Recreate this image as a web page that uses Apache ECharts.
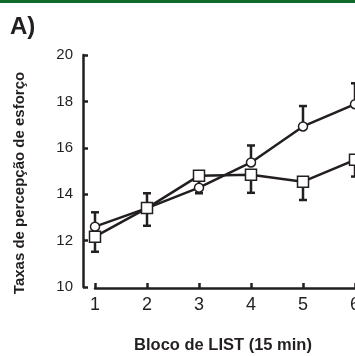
<!DOCTYPE html>
<html>
<head>
<meta charset="utf-8">
<script src="https://cdn.jsdelivr.net/npm/echarts@6/dist/echarts.min.js"></script>
<style>
  html, body { margin: 0; padding: 0; background: #fff; }
  #chart { width: 355px; height: 356px; }
</style>
</head>
<body>
<div id="chart"></div>
<script>
  // blocos de LIST (15 min)
  var blocks = [1, 2, 3, 4, 5, 6];
  // circulos (media + barra superior)
  var circleMean = [12.6, 13.4, 14.28, 15.37, 16.92, 17.88];
  var circleUpper = [13.22, 14.04, 14.9, 16.1, 17.8, 18.78];
  // quadrados (media + barra inferior)
  var squareMean = [12.17, 13.4, 14.8, 14.84, 14.54, 15.48];
  var squareLower = [11.52, 12.64, 14.04, 14.06, 13.75, 14.76];
  var yTicks = [10, 12, 14, 16, 18, 20];

  var ink = '#231f20';
  var chart = echarts.init(document.getElementById('chart'));

  function pairs(xs, ys) {
    return xs.map(function (x, i) { return [x, ys[i]]; });
  }
  function errData(xs, from, to) {
    return xs.map(function (x, i) { return [x, from[i], to[i]]; });
  }
  function errorBar(params, api) {
    var p0 = api.coord([api.value(0), api.value(1)]);
    var p1 = api.coord([api.value(0), api.value(2)]);
    var w = 4;
    var st = { stroke: ink, lineWidth: 2.5 };
    return {
      type: 'group',
      children: [
        { type: 'line', shape: { x1: p0[0], y1: p0[1], x2: p1[0], y2: p1[1] }, style: st },
        { type: 'line', shape: { x1: p1[0] - w, y1: p1[1], x2: p1[0] + w, y2: p1[1] }, style: st }
      ]
    };
  }

  var option = {
    animation: false,
    grid: { left: 95, right: 0, top: 55, bottom: 69, outerBoundsMode: 'none' },
    xAxis: {
      type: 'value', min: 1, max: 6, interval: 1, offset: 1,
      axisLine: { lineStyle: { color: ink, width: 2.5 } },
      axisTick: { inside: true, length: 5, lineStyle: { color: ink, width: 2.5 } },
      axisLabel: { color: ink, fontSize: 18, fontFamily: 'Liberation Sans', margin: 8 },
      splitLine: { show: false }
    },
    yAxis: {
      type: 'value', min: yTicks[0], max: yTicks[yTicks.length - 1], interval: 2, offset: 12,
      axisLine: { show: true, lineStyle: { color: ink, width: 2.5 } },
      axisTick: { show: true, inside: true, length: 5, lineStyle: { color: ink, width: 2.5 } },
      axisLabel: { color: ink, fontSize: 15, fontFamily: 'Liberation Sans', margin: 10 },
      splitLine: { show: false }
    },
    series: [
      {
        type: 'custom', renderItem: errorBar, z: 1,
        data: errData(blocks, circleMean, circleUpper)
      },
      {
        type: 'custom', renderItem: errorBar, z: 1,
        data: errData(blocks, squareMean, squareLower)
      },
      {
        type: 'line', z: 2, data: pairs(blocks, circleMean),
        symbol: 'circle', symbolSize: 9,
        lineStyle: { color: ink, width: 2.5 },
        itemStyle: { color: '#fff', borderColor: ink, borderWidth: 1.5 }
      },
      {
        type: 'line', z: 3, data: pairs(blocks, squareMean),
        symbol: 'rect', symbolSize: 11,
        lineStyle: { color: ink, width: 2.5 },
        itemStyle: { color: '#fff', borderColor: ink, borderWidth: 1.5 }
      }
    ],
    graphic: [
      { type: 'rect', left: 0, top: 0, shape: { width: 355, height: 3 }, style: { fill: '#0f6a2b' } },
      {
        type: 'text', left: 10, top: 15,
        style: { text: 'A)', fill: ink, font: 'bold 24px "Liberation Sans"' }
      },
      {
        type: 'text', x: 20, y: 183, rotation: Math.PI / 2,
        style: {
          text: 'Taxas de percepção de esforço', fill: ink,
          font: 'bold 15px "Liberation Sans"', align: 'center', verticalAlign: 'middle'
        }
      },
      {
        type: 'text', x: 223, y: 345,
        style: {
          text: 'Bloco de LIST (15 min)', fill: ink,
          font: 'bold 16.5px "Liberation Sans"', align: 'center', verticalAlign: 'middle'
        }
      }
    ]
  };
  chart.setOption(option);
</script>
</body>
</html>
